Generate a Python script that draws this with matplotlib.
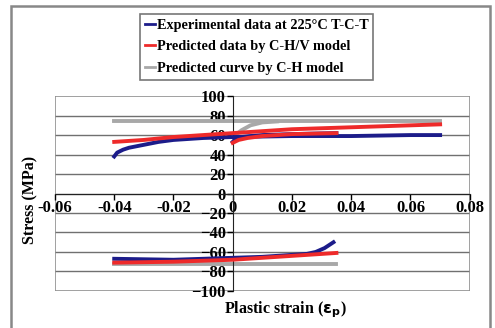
import matplotlib.pyplot as plt
from matplotlib.patches import Rectangle

# experimental data at 225C (T-C-T)
exp_up_x = [-0.04, -0.039, -0.037, -0.035, -0.03, -0.025, -0.02, -0.01, 0.0, 0.01, 0.02, 0.03, 0.04, 0.05, 0.06, 0.07]
exp_up_y = [38, 42, 45, 47, 50, 53, 55, 57, 58, 58.5, 59, 59, 59, 59.5, 60, 60]
exp_re_x = [0.0, 0.001, 0.003, 0.006, 0.01, 0.02, 0.035]
exp_re_y = [53, 56, 58, 59, 60, 61, 62]
exp_lo_x = [-0.04, -0.03, -0.02, -0.01, 0.0, 0.01, 0.02, 0.025, 0.028, 0.031, 0.034]
exp_lo_y = [-67, -67.5, -68, -67, -66, -65, -63, -62, -60, -56, -50]

# C-H/V model
chv_up_x = [-0.04, -0.03, -0.02, -0.01, 0.0, 0.01, 0.02, 0.03, 0.04, 0.05, 0.06, 0.07]
chv_up_y = [53, 55, 58, 60, 62, 64, 66, 67, 68, 69, 70, 71]
chv_re_x = [0.0, 0.002, 0.005, 0.01, 0.02, 0.035]
chv_re_y = [52, 55, 57, 59, 61, 62]
chv_lo_x = [-0.04, -0.02, 0.0, 0.01, 0.02, 0.03, 0.035]
chv_lo_y = [-71, -70, -68, -66, -64, -62, -61]

# C-H model
ch_up_x = [-0.04, 0.07]
ch_up_y = [74, 74]
ch_re_x = [0.0, 0.003, 0.006, 0.01, 0.015]
ch_re_y = [58, 65, 70, 73, 74]
ch_lo_x = [-0.04, 0.035]
ch_lo_y = [-72, -72]

navy = '#1c1c8a'
red = '#ee2a2a'
gray = '#a8a8a8'

plt.rcParams['font.family'] = 'Liberation Serif'
plt.rcParams['font.weight'] = 'bold'

fig = plt.figure(figsize=(4.95, 3.28), dpi=100)
ax = fig.add_axes([0.111, 0.113, 0.838, 0.594])

for y in range(-80, 100, 20):
    ax.axhline(y, color='#707070', lw=1.0, zorder=0)

ax.plot(ch_up_x, ch_up_y, color=gray, lw=2.8, label='Predicted curve by C-H model', zorder=2)
ax.plot(ch_re_x, ch_re_y, color=gray, lw=2.8, zorder=2)
ax.plot(ch_lo_x, ch_lo_y, color=gray, lw=2.8, zorder=2)

ax.plot(exp_up_x, exp_up_y, color=navy, lw=2.8, label='Experimental data at 225°C T-C-T', zorder=3)
ax.plot(exp_re_x, exp_re_y, color=navy, lw=2.8, zorder=3)
ax.plot(exp_lo_x, exp_lo_y, color=navy, lw=2.8, zorder=3)

ax.plot(chv_up_x, chv_up_y, color=red, lw=2.8, label='Predicted data by C-H/V model', zorder=4)
ax.plot(chv_re_x, chv_re_y, color=red, lw=2.8, zorder=4)
ax.plot(chv_lo_x, chv_lo_y, color=red, lw=2.8, zorder=4)

ax.set_xlim(-0.06, 0.08)
ax.set_ylim(-100, 100)
ax.set_xticks([-0.06, -0.04, -0.02, 0, 0.02, 0.04, 0.06, 0.08])
ax.set_xticklabels(['-0.06', '-0.04', '-0.02', '0', '0.02', '0.04', '0.06', '0.08'])
ax.set_yticks(range(-100, 101, 20))

ax.spines['left'].set_position(('data', 0))
ax.spines['bottom'].set_position(('data', 0))
ax.spines['top'].set_visible(False)
ax.spines['right'].set_visible(False)
ax.spines['left'].set_color('#222222')
ax.spines['bottom'].set_color('#222222')
ax.add_patch(Rectangle((0, 0), 1, 1, transform=ax.transAxes, fill=False,
                       edgecolor='#909090', lw=1.2, zorder=1))

ax.tick_params(axis='both', labelsize=12, width=1, length=4, pad=1, direction='out')
for lab in ax.get_xticklabels() + ax.get_yticklabels():
    lab.set_fontweight('bold')

fig.text(0.061, 0.39, 'Stress (MPa)', rotation=90, ha='center', va='center',
         fontsize=11.5, fontweight='bold')
fig.text(0.576, 0.055, r'Plastic strain ($\mathbf{\varepsilon_p}$)', ha='center', va='center',
         fontsize=11.5, fontweight='bold')

handles, labels = ax.get_legend_handles_labels()
order = [1, 2, 0]
leg = fig.legend([handles[i] for i in order], [labels[i] for i in order],
                 loc='upper left', bbox_to_anchor=(0.283, 0.958), fancybox=False,
                 edgecolor='#555555', handlelength=0.7, handletextpad=0.1,
                 borderpad=0.35, labelspacing=0.6, borderaxespad=0,
                 prop={'weight': 'bold', 'size': 10.3})
leg.get_frame().set_linewidth(1.2)
for line in leg.get_lines():
    line.set_linewidth(2)

fig.patches.append(Rectangle((0.022, -0.02), 0.968, 1.002, transform=fig.transFigure,
                             fill=False, edgecolor='#888888', lw=1.8))

fig.savefig('out.png', dpi=100)
